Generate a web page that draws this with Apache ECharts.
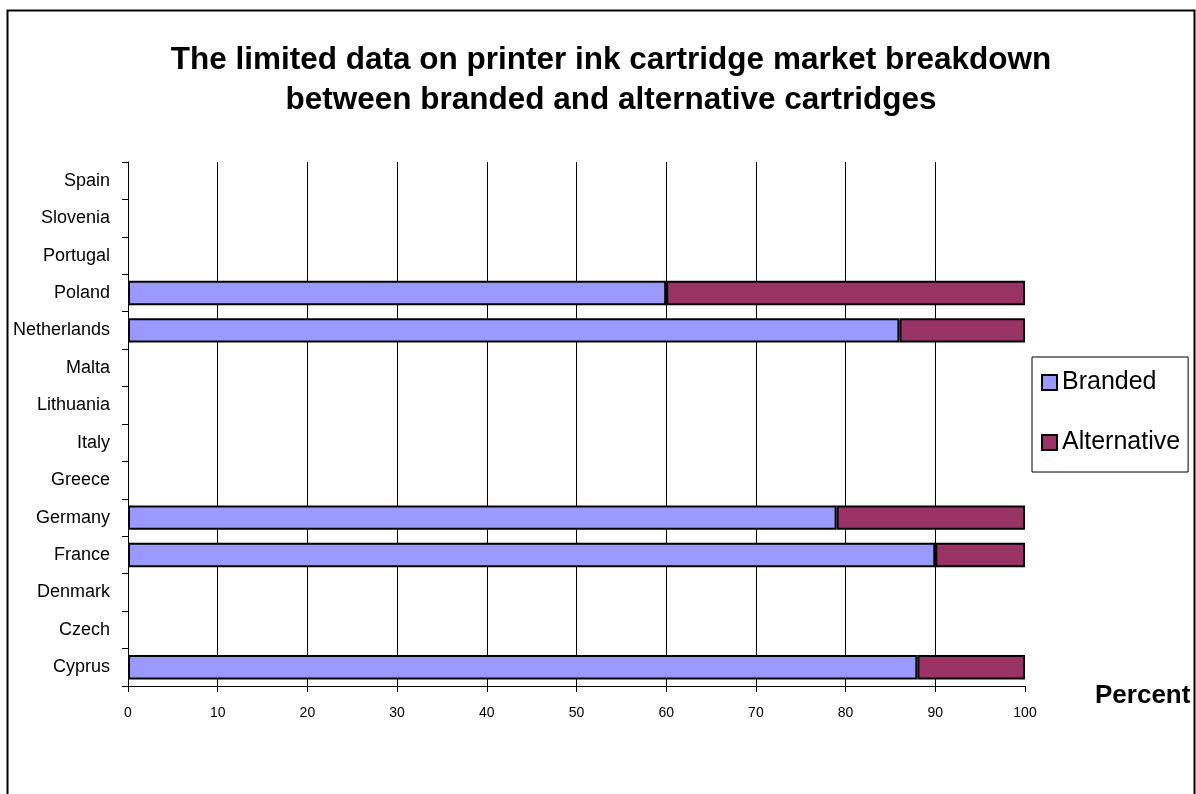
<!DOCTYPE html>
<html>
<head>
<meta charset="utf-8">
<title>Printer ink cartridge market breakdown</title>
<script src="https://cdn.jsdelivr.net/npm/echarts@6/dist/echarts.min.js"></script>
<style>
  html, body { margin: 0; padding: 0; background: #ffffff; }
  #chart { width: 1196px; height: 794px; }
</style>
</head>
<body>
<div id="chart"></div>
<script>
// Countries, bottom to top as listed on the category axis
const countries = ['Cyprus', 'Czech', 'Denmark', 'France', 'Germany', 'Greece', 'Italy',
  'Lithuania', 'Malta', 'Netherlands', 'Poland', 'Portugal', 'Slovenia', 'Spain'];

// Market share in percent; null where no data is available
const branded     = [88, null, null, 90, 79, null, null, null, null, 86, 60, null, null, null];
const alternative = [12, null, null, 10, 21, null, null, null, null, 14, 40, null, null, null];

const percentTicks = [0, 10, 20, 30, 40, 50, 60, 70, 80, 90, 100];

const chart = echarts.init(document.getElementById('chart'), null, { renderer: 'canvas' });

const FONT = 'Liberation Sans, Arial, sans-serif';

chart.setOption({
  backgroundColor: '#ffffff',
  animation: false,
  title: {
    text: 'The limited data on printer ink cartridge market breakdown\nbetween branded and alternative cartridges',
    left: 606,
    top: 35,
    textAlign: 'center',
    textStyle: {
      fontFamily: FONT,
      fontSize: 31.5,
      fontWeight: 'bold',
      color: '#000000',
      lineHeight: 40
    }
  },
  legend: {
    orient: 'vertical',
    left: 1032,
    top: 357,
    padding: [13, 8, 17, 9],
    itemGap: 35,
    itemWidth: 15,
    itemHeight: 15,
    icon: 'rect',
    borderColor: '#000000',
    borderWidth: 1,
    textStyle: { fontFamily: FONT, fontSize: 25, color: '#000000' },
    data: ['Branded', 'Alternative']
  },
  grid: { left: 128, right: 171, top: 162, bottom: 108, containLabel: false },
  xAxis: {
    type: 'value',
    min: 0,
    max: 100,
    interval: 10,
    axisLine: { show: true, lineStyle: { color: '#000000', width: 1 } },
    axisTick: { show: true, length: 6, lineStyle: { color: '#000000' } },
    axisLabel: {
      color: '#000000', fontFamily: FONT, fontSize: 14, margin: 20,
      formatter: v => percentTicks.includes(v) ? String(v) : ''
    },
    splitLine: {
      show: true,
      lineStyle: { color: ['transparent', '#000000', '#000000', '#000000', '#000000',
        '#000000', '#000000', '#000000', '#000000', '#000000', 'transparent'], width: 1 }
    }
  },
  yAxis: {
    type: 'category',
    data: countries,
    axisLine: { show: true, lineStyle: { color: '#000000', width: 1 } },
    axisTick: { show: true, length: 6, lineStyle: { color: '#000000' } },
    axisLabel: { color: '#000000', fontFamily: FONT, fontSize: 18, margin: 18 },
    splitLine: { show: false }
  },
  series: [
    {
      name: 'Branded',
      type: 'bar',
      stack: 'share',
      barWidth: '65%',
      data: branded,
      itemStyle: { color: '#9999ff', borderColor: '#000000', borderWidth: 2 }
    },
    {
      name: 'Alternative',
      type: 'bar',
      stack: 'share',
      barWidth: '65%',
      data: alternative,
      itemStyle: { color: '#993366', borderColor: '#000000', borderWidth: 2 }
    }
  ],
  graphic: [
    {
      type: 'rect',
      shape: { x: 7.5, y: 10.5, width: 1187, height: 800 },
      style: { fill: 'none', stroke: '#000000', lineWidth: 2 },
      silent: true,
      z: 100
    },
    {
      type: 'text',
      left: 1095,
      top: 683,
      style: { text: 'Percent', fontFamily: FONT, fontSize: 26, fontWeight: 'bold', fill: '#000000' }
    }
  ]
});
</script>
</body>
</html>
